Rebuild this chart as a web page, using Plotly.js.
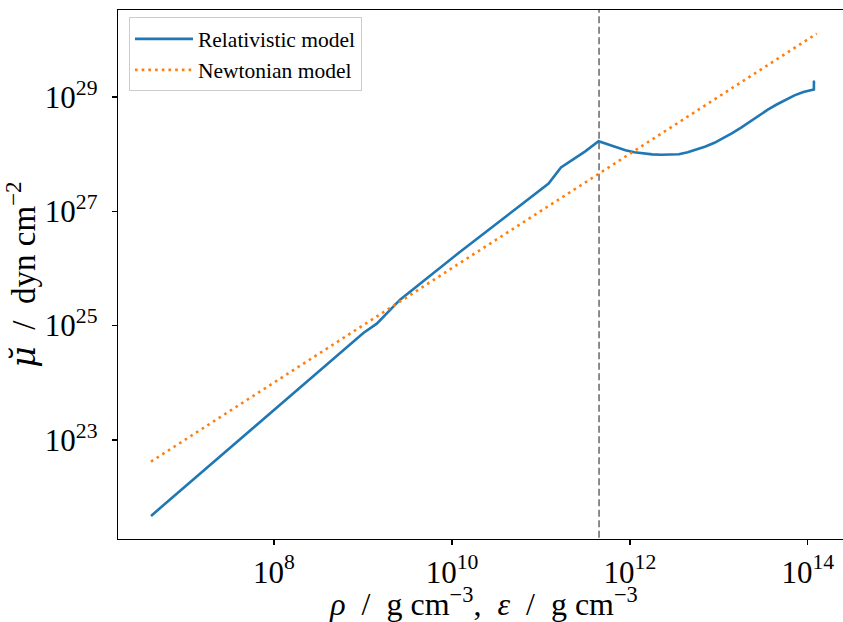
<!DOCTYPE html>
<html><head><meta charset="utf-8">
<script src="https://cdn.plot.ly/plotly-3.0.1.min.js"></script>
<style>html,body{margin:0;padding:0;overflow:hidden;background:#fff}#chart{width:852px;height:622px}</style>
</head><body><div id="chart"></div>
<script>
// Relativistic model
const relRho = [4.14e6, 9.77e7, 1.009e9, 1.429e9, 1.854e9, 2.61e9, 1.186e10, 5.85e10, 1.219e11, 1.679e11, 3.148e11, 4.446e11,
  5.62e11, 7.08e11, 8.91e11, 1.122e12, 1.413e12, 1.778e12, 2.239e12, 2.818e12, 3.548e12, 4.467e12, 5.623e12, 7.079e12, 8.913e12,
  1.122e13, 1.413e13, 1.778e13, 2.239e13, 2.818e13, 3.548e13, 4.467e13, 5.623e13, 7.079e13, 8.913e13, 1.072e14, 1.153e14,
  1.17e14, 1.17e14, 1.20e14];
const relMu  = [4.68e21, 3.27e23, 7.45e24, 1.084e25, 1.66e25, 2.85e25, 1.862e26, 1.259e27, 3.055e27, 5.89e27, 1.122e28, 1.683e28,
  1.479e28, 1.303e28, 1.175e28, 1.084e28, 1.030e28, 9.95e27, 9.77e27, 9.77e27, 1.0e28, 1.084e28, 1.202e28, 1.365e28, 1.585e28,
  1.905e28, 2.344e28, 2.917e28, 3.715e28, 4.786e28, 6.026e28, 7.413e28, 9.016e28, 1.072e29, 1.225e29, 1.318e29, 1.352e29,
  1.36e29, 1.85e29, 1.90e29];
// Newtonian model
const newRho = [4.14e6, 1.11e10, 4.65e11, 1.26e14];
const newMu  = [4.17e22, 1.12e26, 4.7e27, 1.29e30];
// vertical reference density
const dripDensity = 4.5e11;
const seriesNames = ['Relativistic model', 'Newtonian model'];
const xTickVals = [1e8, 1e10, 1e12, 1e14];
const xTickText = ['10<sup>8</sup>', '10<sup>10</sup>', '10<sup>12</sup>', '10<sup>14</sup>'];
const yTickVals = [1e23, 1e25, 1e27, 1e29];
const yTickText = ['10<sup>23</sup>', '10<sup>25</sup>', '10<sup>27</sup>', '10<sup>29</sup>'];
const xTitle = '<i>ρ</i>  /  g cm<sup>−3</sup>,  <i>ε</i>  /  g cm<sup>−3</sup>';
const yTitle = '<span style="font-family:DejaVu Serif"><i>μ̆</i></span>  /  dyn cm<sup>−2</sup>';

const FONT = 'Liberation Serif, DejaVu Serif, serif';

const traces = [
  {x: [dripDensity, dripDensity], y: [1e20, 1e32], mode: 'lines', showlegend: false, hoverinfo: 'skip',
   line: {color: '#808080', width: 1.8, dash: '7px,3.5px'}},
  {x: relRho, y: relMu, mode: 'lines', name: seriesNames[0], line: {color: '#1f77b4', width: 2.6}},
  {x: newRho, y: newMu, mode: 'lines', name: seriesNames[1], line: {color: '#ff7f0e', width: 2.6, dash: '2.6px,4.1px'}}
];

const axisCommon = {
  type: 'log', showgrid: false, zeroline: false, showline: true, mirror: true,
  linecolor: '#000', linewidth: 1.3, ticks: 'outside', ticklen: 5, tickwidth: 1.2, tickcolor: '#000',
  tickfont: {family: FONT, size: 31, color: '#000'}, automargin: false
};

const layout = {
  width: 852, height: 622,
  margin: {l: 118, r: 2, t: 10, b: 83},
  paper_bgcolor: '#fff', plot_bgcolor: '#fff',
  font: {family: FONT, color: '#000'},
  xaxis: Object.assign({}, axisCommon, {range: [6.246, 14.474], tickmode: 'array', tickvals: xTickVals, ticktext: xTickText,
    title: {text: xTitle, font: {family: FONT, size: 32, color: '#000'}, standoff: 10}}),
  yaxis: Object.assign({}, axisCommon, {range: [21.266, 30.524], tickmode: 'array', tickvals: yTickVals, ticktext: yTickText,
    ticklabelstandoff: 8,
    title: {text: yTitle, font: {family: FONT, size: 33, color: '#000'}, standoff: 8}}),
  legend: {x: 0.015, y: 0.986, xanchor: 'left', yanchor: 'top', bgcolor: 'rgba(255,255,255,0.8)',
    bordercolor: '#cccccc', borderwidth: 1, itemwidth: 58, font: {family: FONT, size: 21.5, color: '#000'}},
  showlegend: true
};

Plotly.newPlot('chart', traces, layout, {staticPlot: true, displayModeBar: false});
</script>
</body></html>
